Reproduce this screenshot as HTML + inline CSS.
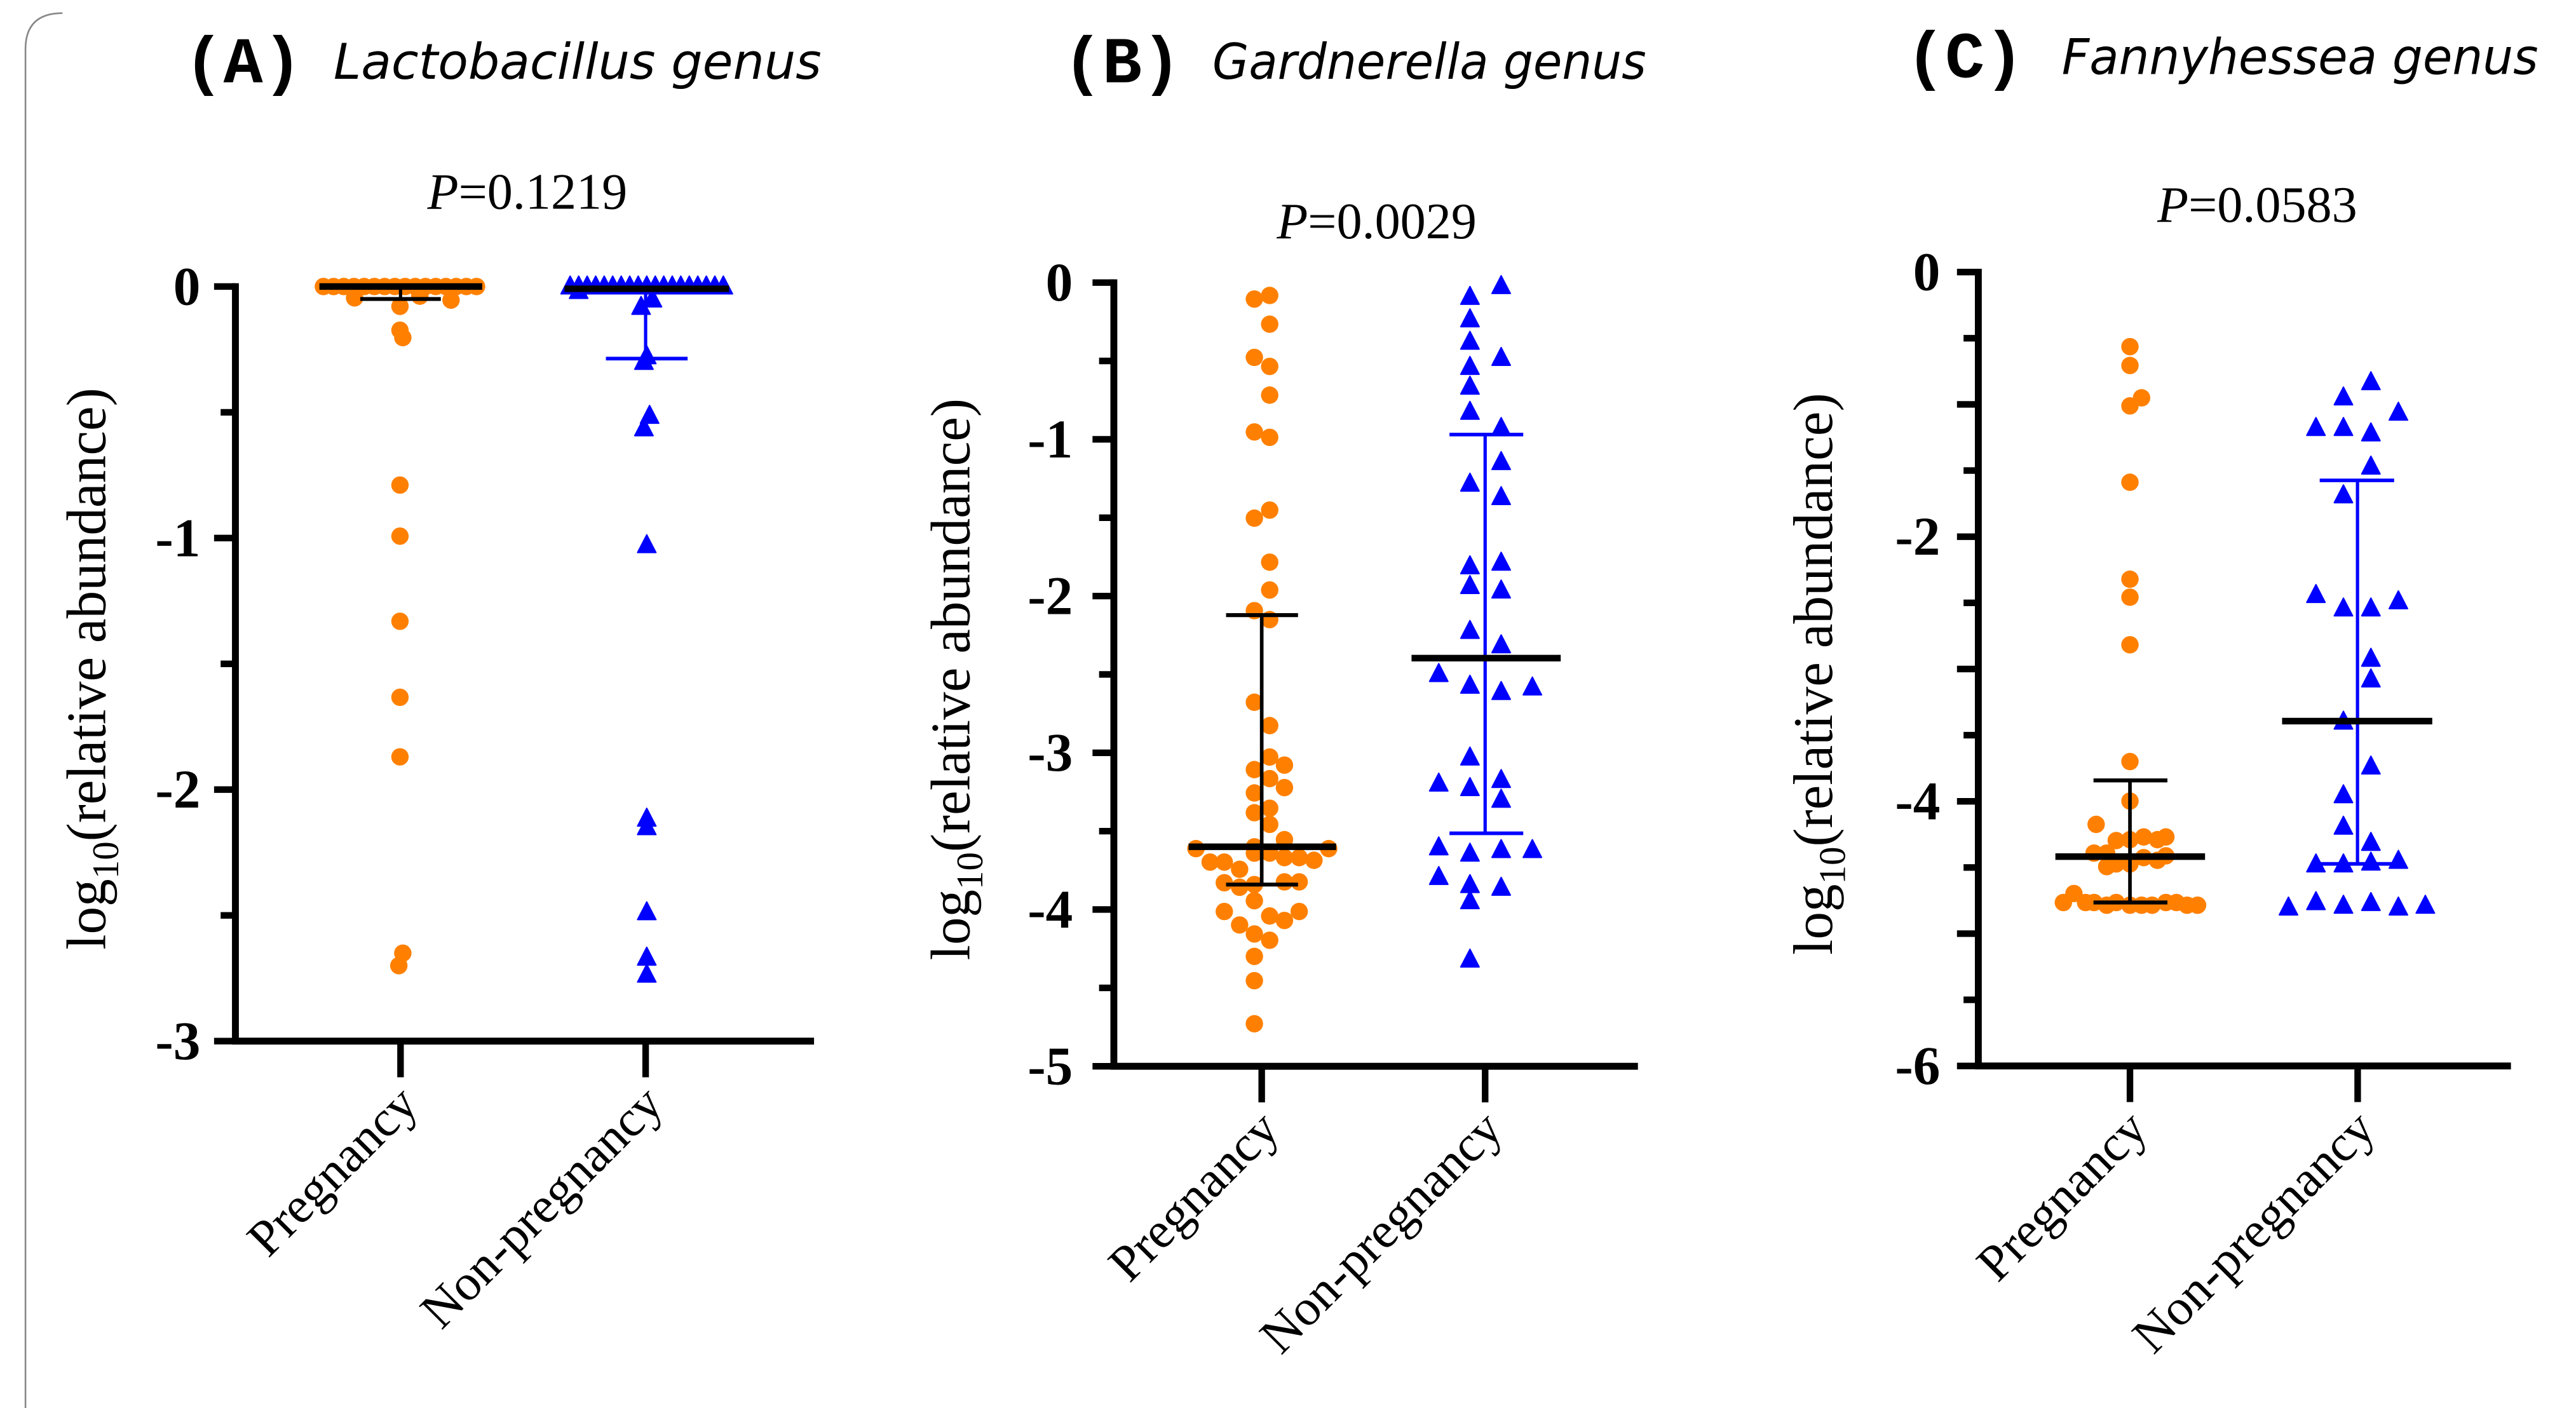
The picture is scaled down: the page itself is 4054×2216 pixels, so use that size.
<!DOCTYPE html>
<html><head><meta charset="utf-8">
<style>html,body{margin:0;padding:0;background:#fff;}svg{display:block}</style>
</head><body>
<svg id="s" xmlns="http://www.w3.org/2000/svg" width="4054" height="2216" viewBox="0 0 1568 857" preserveAspectRatio="none">
<rect width="1568" height="857" fill="#fff"/>
<path d="M15.5,857 V30 Q15.5,8 38,8" fill="none" stroke="#888" stroke-width="1"/>
<g style="font-family:'Liberation Mono',monospace;font-weight:bold;font-size:40px" fill="#000">
<text x="112" y="50">(A)</text><text x="647" y="50">(B)</text><text x="1160" y="47">(C)</text>
</g>
<g style="font-family:'DejaVu Sans','Liberation Sans',sans-serif;font-style:italic;font-size:30px" fill="#000">
<text x="203" y="48" textLength="297" lengthAdjust="spacingAndGlyphs">Lactobacillus genus</text>
<text x="738" y="48" textLength="264" lengthAdjust="spacingAndGlyphs">Gardnerella genus</text>
<text x="1255" y="45" textLength="290" lengthAdjust="spacingAndGlyphs">Fannyhessea genus</text>
</g>
<g style="font-family:'Liberation Serif',serif;font-size:31px" fill="#000" text-anchor="middle">
<text x="321" y="127"><tspan font-style="italic">P</tspan>=0.1219</text>
<text x="838" y="145"><tspan font-style="italic">P</tspan>=0.0029</text>
<text x="1374" y="135"><tspan font-style="italic">P</tspan>=0.0583</text>
</g>
<g id="g"></g>
</svg>
<script>
var NS="http://www.w3.org/2000/svg",G=document.getElementById('g');
var SERIF="font-family:'Liberation Serif',serif;";
function el(t,a,txt,par){var e=document.createElementNS(NS,t);for(var k in a)e.setAttribute(k,a[k]);if(txt!=null)e.textContent=txt;(par||G).appendChild(e);return e;}
function line(x1,y1,x2,y2,c,w){el('line',{x1:x1,y1:y1,x2:x2,y2:y2,stroke:c,'stroke-width':w});}
function circ(x,y){el('circle',{cx:x,cy:y,r:5.3,fill:'#ff8000'});}
function tri(x,y){el('path',{d:'M'+x+','+(y-6)+' L'+(x+5.6)+','+(y+4.8)+' L'+(x-5.6)+','+(y+4.8)+'Z',fill:'#0000ff',stroke:'#0000ff','stroke-width':0.8,'stroke-linejoin':'round'});}
function axes(ax,y0,yb,xr,cats,labels,lblx,ylabx){
  line(ax,y0-2,ax,yb+2,'#000',4.2);
  line(ax-2,yb,xr,yb,'#000',4.2);
  var n=labels.length-1;
  for(var i=0;i<=n;i++){var y=y0+(yb-y0)*i/n;line(ax-13,y,ax,y,'#000',4);
    el('text',{x:lblx,y:y+11,'text-anchor':'end',style:SERIF+'font-weight:bold;font-size:33px'},labels[i]);
    if(i<n){var ym=y+(yb-y0)/n/2;line(ax-9,ym,ax,ym,'#000',4);}}
  cats.forEach(function(c,j){line(c,yb,c,yb+22,'#000',4);
    el('text',{x:c+12,y:yb+40,'text-anchor':'end',transform:'rotate(-45 '+(c+12)+' '+(yb+40)+')',style:SERIF+'font-size:31px'},j?'Non-pregnancy':'Pregnancy');});
  var cy=(y0+yb)/2+3;
  var t=el('text',{x:ylabx,y:cy,'text-anchor':'middle',transform:'rotate(-90 '+ylabx+' '+cy+')',style:SERIF+'font-size:34px',textLength:'342',lengthAdjust:'spacingAndGlyphs'});
  el('tspan',{},'log',t);el('tspan',{'font-size':'23',dy:'8'},'10',t);el('tspan',{dy:'-8'},'(relative abundance)',t);
}
// Panel A
axes(143.3,174.4,633.7,495.5,[243.8,393],['0','-1','-2','-3'],122,64);
function A(zx,zy){return [zx/2.8958,(350+zy/1.12)/2.5855];}
var oa=[];for(var zx=570;zx<=850;zx+=18)oa.push([zx,113]);
oa=oa.concat([[625,133],[705,148],[740,130],[795,137],[705,190],[710,203],[705,463],[705,553],[705,703],[705,837],[705,942],[710,1288],[703,1310]]);
oa.forEach(function(p){var q=A(p[0],p[1]);circ(q[0],q[1]);});
var ba=[];for(var zx=1005;zx<=1280;zx+=15)ba.push([zx,112]);
ba=ba.concat([[1020,120],[1130,148],[1150,135],[1135,245],[1140,235],[1135,362],[1145,340],[1140,568],[1140,1050],[1140,1065],[1140,1215],[1140,1295],[1140,1325]]);
ba.forEach(function(p){var q=A(p[0],p[1]);tri(q[0],q[1]);});
(function(){var a=A(563,113),b=A(850,113);line(a[0],a[1],b[0],b[1],'#000',4);
 var c=A(706,113),d=A(706,135);line(c[0],c[1],d[0],d[1],'#000',2);var e=A(635,135),f=A(777,135);line(e[0],e[1],f[0],f[1],'#000',2.4);
 var g=A(995,117),h=A(1285,117);
 var i=A(1138,117),j=A(1138,240);line(i[0],i[1],j[0],j[1],'#0000ff',2);var k=A(1068,240),l=A(1212,240);line(k[0],k[1],l[0],l[1],'#0000ff',2.2);
 line(g[0],g[1],h[0],h[1],'#000',4);})();
// Panel B
axes(678,172,649,997,[768,904],['0','-1','-2','-3','-4','-5'],653,590);
function B(zx,zy){return [(1400+zx/1.12)/2.5855,zy/1.8295];}
[[643,333],[670,329],[670,361],[643,398],[670,408],[670,440],[643,481],[670,487],[643,577],[670,568],[670,626],[670,657],[643,680],[670,690],[643,782],[670,808],[643,857],[670,843],[696,852],[670,867],[643,883],[696,877],[643,905],[670,900],[670,918],[643,943],[540,945],[565,960],[590,960],[617,968],[643,950],[670,950],[696,935],[696,955],[722,955],[748,958],[774,945],[590,983],[617,988],[643,985],[696,982],[722,982],[590,1015],[617,1030],[643,1003],[670,1020],[696,1025],[722,1015],[643,1040],[670,1047],[643,1065],[643,1092],[643,1140]].forEach(function(p){var q=B(p[0],p[1]);circ(q[0],q[1]);});
[[1078,318],[1023,330],[1023,355],[1023,380],[1078,398],[1023,408],[1023,430],[1023,458],[1078,476],[1078,514],[1023,538],[1078,553],[1023,630],[1078,626],[1023,652],[1078,657],[1023,702],[1078,718],[968,750],[1023,763],[1078,770],[1133,765],[1023,843],[968,872],[1023,877],[1078,868],[1078,890],[968,943],[1023,950],[1078,946],[1133,946],[968,976],[1023,985],[1078,988],[1023,1003],[1023,1068]].forEach(function(p){var q=B(p[0],p[1]);tri(q[0],q[1]);});
line(723.5,515.4,813.3,515.4,'#000',4);line(768,374.4,768,538.4,'#000',2.2);line(746.3,374.4,790.1,374.4,'#000',2.4);line(746.3,538.4,790.1,538.4,'#000',2.4);
line(904,264.5,904,507.2,'#0000ff',2);line(882.3,264.5,927.2,264.5,'#0000ff',2.2);line(882.3,507.2,927.2,507.2,'#0000ff',2.2);line(859.2,400.6,950,400.6,'#000',4);
// Panel C
axes(1204.2,165.6,648.8,1528.4,[1296.5,1435.1],['0','','-2','','-4','','-6'],1181,1115);
function C(zx,zy){return [(2750+zx/1.2025)/2.5855,zy/1.8295];}
[[724,386],[724,407],[724,452],[746,443],[724,537],[724,645],[724,665],[724,718],[724,848],[724,892],[660,918],[698,936],[724,935],[750,932],[776,935],[792,932],[656,950],[680,950],[698,962],[724,962],[750,955],[776,958],[792,953],[680,965],[598,1005],[618,995],[640,1005],[656,1005],[680,1008],[698,1005],[724,1008],[746,1008],[766,1008],[792,1005],[812,1005],[832,1008],[852,1008]].forEach(function(p){var q=C(p[0],p[1]);circ(q[0],q[1]);});
[[1180,425],[1128,442],[1232,459],[1076,476],[1128,476],[1180,482],[1180,519],[1128,551],[1076,662],[1128,677],[1180,677],[1232,669],[1180,733],[1180,756],[1128,803],[1180,853],[1128,885],[1128,920],[1180,938],[1076,962],[1128,962],[1180,960],[1232,958],[1024,1010],[1076,1004],[1128,1008],[1180,1005],[1232,1010],[1283,1008]].forEach(function(p){var q=C(p[0],p[1]);tri(q[0],q[1]);});
line(1251.1,521.4,1342.2,521.4,'#000',4);line(1296.5,475,1296.5,549.3,'#000',2.2);line(1274.3,475,1319.3,475,'#000',2.4);line(1274.3,549.3,1319.3,549.3,'#000',2.4);
line(1435,292.4,1435,525.8,'#0000ff',2);line(1412,292.4,1457.3,292.4,'#0000ff',2.2);line(1412,525.8,1457.3,525.8,'#0000ff',2.2);line(1389.1,438.9,1480.5,438.9,'#000',4);
</script>
</body></html>
